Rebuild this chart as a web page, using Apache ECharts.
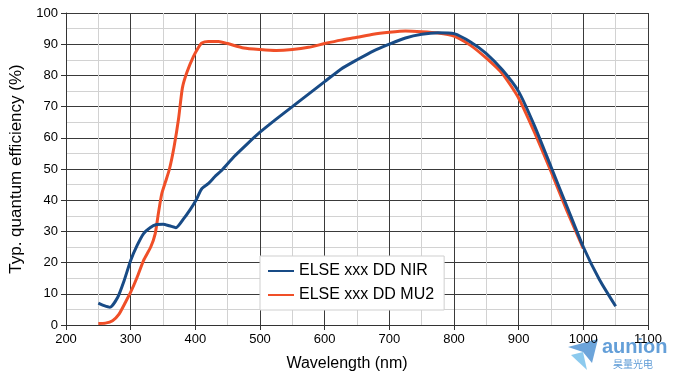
<!DOCTYPE html>
<html>
<head>
<meta charset="utf-8">
<script src="https://cdn.jsdelivr.net/npm/echarts@6/dist/echarts.min.js"></script>
<style>
  html, body { margin: 0; padding: 0; background: #fff; }
  #chart { width: 679px; height: 377px; }
</style>
</head>
<body>
<div id="chart"></div>
<script>
// NIR curve (blue)
var nmNir = [250, 259, 268, 280, 290, 300, 310, 320, 330, 340, 350, 360, 370, 382, 392, 401, 410, 420, 430, 441,
	460, 480, 500, 525, 550, 575, 600, 625, 650, 675, 700, 725, 750, 775, 800, 825, 850, 875, 900, 925,
	950, 975, 1000, 1025, 1050];
var qeNir = [7, 6.2, 5.7, 8.9, 14.3, 20.7, 25.5, 29.3, 31.2, 32.2, 32.3, 31.8, 31.2, 34.1, 37, 40, 43.7, 45.3, 47.5, 49.6,
	54, 58, 61.8, 66, 70, 74, 78, 82, 85, 87.8, 90, 92, 93.2, 93.7, 93.4, 90.8, 87, 81.7, 74.8, 63.6,
	50.7, 37.8, 25, 14.5, 6];

// MU2 curve (red)
var nmMu2 = [250, 261, 272, 282, 292, 300, 310, 320, 331, 338, 343, 348, 354, 360, 367, 374, 380, 387, 397, 405,
	410, 420, 436, 450, 475, 500, 525, 550, 575, 600, 625, 650, 675, 700, 725, 750, 775, 800, 825, 850,
	875, 900, 925, 950, 975, 1000];
var qeMu2 = [0.5, 0.6, 1.4, 3.5, 7.3, 10.5, 15.3, 20.7, 25, 29.3, 36, 42, 46, 50, 57, 66, 76, 81, 86, 89,
	90.4, 90.9, 90.9, 90.2, 88.8, 88.3, 88, 88.3, 89, 90.2, 91.3, 92.2, 93.2, 93.8, 94.2, 94, 93.6, 92.6, 89.7, 85.5,
	80.5, 72.7, 61.5, 49.2, 36.4, 24.5];

var seriesNames = ['ELSE xxx DD NIR', 'ELSE xxx DD MU2'];

function pairs(xs, ys) {
	var out = [];
	for (var i = 0; i < xs.length; i++) out.push([xs[i], ys[i]]);
	return out;
}

var font = 'Liberation Sans, Arial, sans-serif';

var option = {
	animation: false,
	backgroundColor: '#fff',
	grid: { left: 63, right: 31, top: 13, bottom: 52 },
	xAxis: {
		type: 'value', min: 200, max: 1100, interval: 100,
		name: 'Wavelength (nm)', nameLocation: 'middle', nameGap: 31,
		nameTextStyle: { fontFamily: font, fontSize: 16, color: '#000', padding: [0, 20, 0, 0] },
		axisLine: { lineStyle: { color: '#333', width: 1 } },
		axisTick: { show: true, length: 5, lineStyle: { color: '#333' } },
		axisLabel: { fontFamily: font, fontSize: 13, color: '#000', margin: 8, formatter: function (v) { return String(v); } },
		splitLine: { show: true, lineStyle: { color: '#3a3a3a', width: 1 } },
		minorTick: { show: true, splitNumber: 2, length: 0 },
		minorSplitLine: { show: true, lineStyle: { color: '#d2d2d2', width: 1 } }
	},
	yAxis: {
		type: 'value', min: 0, max: 100, interval: 10,
		name: 'Typ. quantum efficiency (%)', nameLocation: 'middle', nameGap: 41,
		nameTextStyle: { fontFamily: font, fontSize: 17, color: '#000' },
		axisLine: { show: true, lineStyle: { color: '#333', width: 1 } },
		axisTick: { show: true, length: 5, lineStyle: { color: '#333' } },
		axisLabel: { fontFamily: font, fontSize: 13, color: '#000', margin: 8 },
		splitLine: { show: true, lineStyle: { color: '#3a3a3a', width: 1 } },
		minorTick: { show: true, splitNumber: 2, length: 0 },
		minorSplitLine: { show: true, lineStyle: { color: '#d2d2d2', width: 1 } }
	},
	legend: {
		orient: 'vertical', left: 260, top: 256,
		data: seriesNames,
		icon: 'rect', itemWidth: 26, itemHeight: 2, itemGap: 8,
		padding: [7, 10, 7, 8],
		backgroundColor: '#fff', borderColor: '#cfcfcf', borderWidth: 1,
		textStyle: { fontFamily: font, fontSize: 16, color: '#000' }
	},
	series: [
		{
			name: seriesNames[1], type: 'line', data: pairs(nmMu2, qeMu2),
			showSymbol: false, smooth: 0.2, color: '#f04f28',
			lineStyle: { width: 3, color: '#f04f28' }
		},
		{
			name: seriesNames[0], type: 'line', data: pairs(nmNir, qeNir),
			showSymbol: false, smooth: 0.2, color: '#184b86',
			lineStyle: { width: 3, color: '#184b86' }
		}
	],
	graphic: [
		{ type: 'polygon', shape: { points: [[568, 347], [598, 339], [592, 363], [583, 352]] }, style: { fill: '#5c9ad6', opacity: 0.9 } },
		{ type: 'polygon', shape: { points: [[571, 355], [583, 352], [587, 370]] }, style: { fill: '#7fc4ec', opacity: 0.9 } },
		{ type: 'text', left: 602, top: 337, style: { text: 'aunion', fill: '#5c9ad6', font: 'bold 20px ' + font, opacity: 0.95 } },
		{ type: 'text', left: 613, top: 359, style: { text: '昊量光电', fill: '#5c9ad6', font: '10px Noto Sans CJK SC' } }
	]
};

var myChart = echarts.init(document.getElementById('chart'));
myChart.setOption(option);
</script>
</body>
</html>
